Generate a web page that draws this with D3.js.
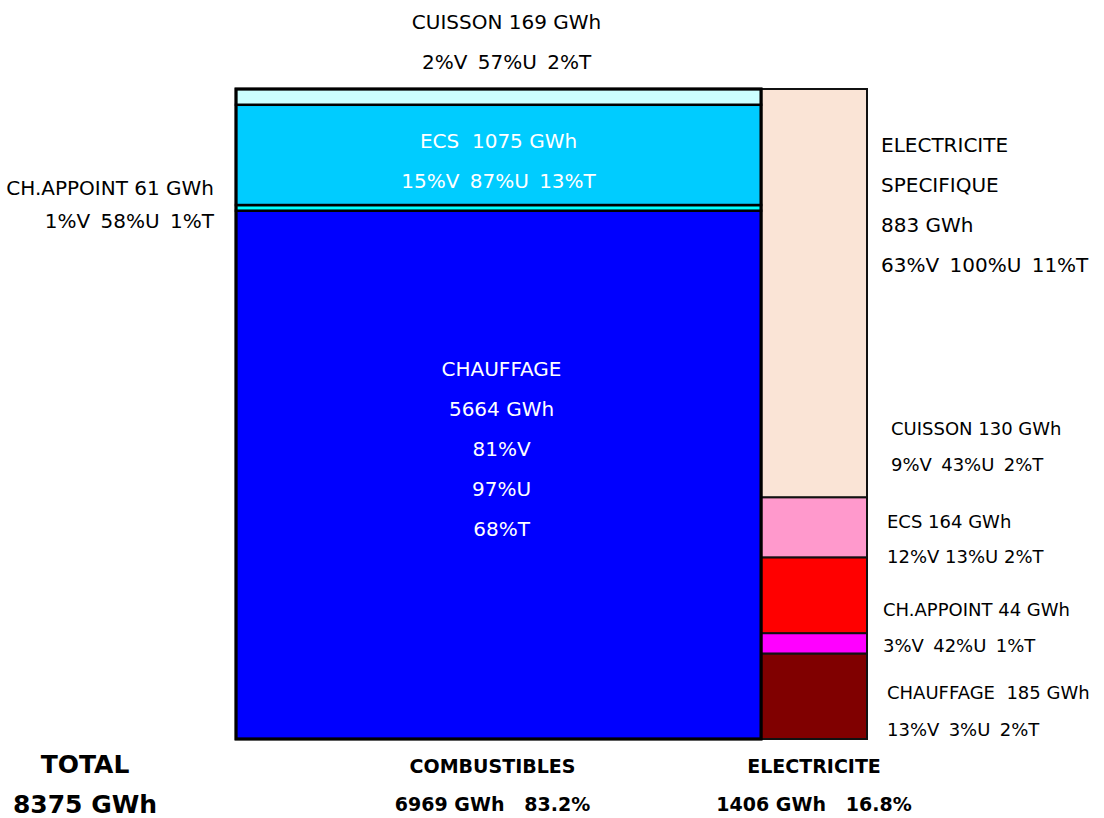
<!DOCTYPE html>
<html>
<head>
<meta charset="utf-8">
<style>
body {
  margin: 0;
  background: #fff;
}
svg text {
  font-family: "DejaVu Sans", sans-serif;
}
</style>
</head>
<body>
<div class="container"></div>
<script src="https://d3js.org/d3.v7.min.js"></script>
<script>

// energy carriers (columns)
var carriers = ["COMBUSTIBLES", "ELECTRICITE"];
var carrierTotals = [6969, 1406];
var carrierShares = ["83.2%", "16.8%"];
var grandTotal = 8375;

// uses, stacked from the bottom
var combUses = ["CHAUFFAGE", "CH.APPOINT", "ECS", "CUISSON"];
var combValues = [5664, 61, 1075, 169];
var combShares = ["81%V 97%U 68%T", "1%V 58%U 1%T", "15%V 87%U 13%T", "2%V 57%U 2%T"];
var combColors = ["#0000ff", "#00ffff", "#00ccff", "#ccffff"];

var elecUses = ["CHAUFFAGE", "CH.APPOINT", "ECS", "CUISSON", "ELECTRICITE SPECIFIQUE"];
var elecValues = [185, 44, 164, 130, 883];
var elecShares = ["13%V 3%U 2%T", "3%V 42%U 1%T", "12%V 13%U 2%T", "9%V 43%U 2%T", "63%V 100%U 11%T"];
var elecColors = ["#800000", "#ff00ff", "#ff0000", "#ff99cc", "#fae4d6"];

var width = 1104,
    height = 818;

var svg = d3.select(".container")
    .append("svg")
    .attr("width", width)
    .attr("height", height);

var x = d3.scaleLinear().domain([0, grandTotal]).range([236, 867]);

function stackUp(values) {
  var acc = 0;
  return values.map(function(v) {
    var d = { y0: acc, y1: acc + v, value: v };
    acc += v;
    return d;
  });
}

var combStack = stackUp(combValues);
var elecStack = stackUp(elecValues);

var yComb = d3.scaleLinear().domain([0, carrierTotals[0]]).range([739, 89]);
var yElec = d3.scaleLinear().domain([0, carrierTotals[1]]).range([739, 89]);

var xComb0 = x(0), xComb1 = x(carrierTotals[0]);
var xElec0 = x(carrierTotals[0]), xElec1 = x(grandTotal);

// electricity column first so the combustibles border sits on top
svg.append("g").selectAll("rect")
    .data(elecStack)
    .enter().append("rect")
    .attr("x", xElec0)
    .attr("width", xElec1 - xElec0)
    .attr("y", function(d) { return yElec(d.y1); })
    .attr("height", function(d) { return yElec(d.y0) - yElec(d.y1); })
    .style("fill", function(d, i) { return elecColors[i]; })
    .style("stroke", "#111")
    .style("stroke-width", 2);

svg.append("g").selectAll("rect")
    .data(combStack)
    .enter().append("rect")
    .attr("x", xComb0)
    .attr("width", xComb1 - xComb0)
    .attr("y", function(d) { return yComb(d.y1); })
    .attr("height", function(d) { return yComb(d.y0) - yComb(d.y1); })
    .style("fill", function(d, i) { return combColors[i]; })
    .style("stroke", "#000")
    .style("stroke-width", 2.5);

svg.append("rect")
    .attr("x", xComb0)
    .attr("y", yComb(carrierTotals[0]))
    .attr("width", xComb1 - xComb0)
    .attr("height", yComb(0) - yComb(carrierTotals[0]))
    .style("fill", "none")
    .style("stroke", "#000")
    .style("stroke-width", 3);

function label(lines, px, py, opts) {
  opts = opts || {};
  var step = opts.step || 40;
  svg.append("g").selectAll("text")
      .data(lines)
      .enter().append("text")
      .attr("x", px)
      .attr("y", function(d, i) { return py + i * step; })
      .attr("dominant-baseline", "central")
      .attr("text-anchor", opts.anchor || "start")
      .style("font-size", (opts.size || 20) + "px")
      .style("font-weight", opts.weight || "normal")
      .style("fill", opts.color || "#000")
      .style("white-space", "pre")
      .text(function(d) { return d; });
}

function spaced(s) { return s.replace(/ /g, " \u2009"); }

var cx = (xComb0 + xComb1) / 2;
var plotTop = yComb(carrierTotals[0]);

// combustibles labels
label([combUses[3] + " " + combValues[3] + " GWh", spaced(combShares[3])], cx + 8, plotTop - 67, { anchor: "middle" });
var ecsMid = yComb((combStack[2].y0 + combStack[2].y1) / 2);
label([combUses[2] + "  " + combValues[2] + " GWh", spaced(combShares[2])], cx, ecsMid - 14, { anchor: "middle", color: "#fff" });
var appMid = yComb((combStack[1].y0 + combStack[1].y1) / 2);
label([combUses[1] + " " + combValues[1] + " GWh", spaced(combShares[1])], xComb0 - 22, appMid - 20, { anchor: "end", step: 33 });
var chMid = yComb((combStack[0].y0 + combStack[0].y1) / 2);
label([combUses[0], combValues[0] + " GWh"].concat(combShares[0].split(" ")), cx + 3, chMid - 106, { anchor: "middle", color: "#fff" });

// electricity labels
var ex = xElec1 + 14;
label(["ELECTRICITE", "SPECIFIQUE", elecValues[4] + " GWh", spaced(elecShares[4])], ex, plotTop + 56, { step: 40 });
var eMid = function(i) { return yElec((elecStack[i].y0 + elecStack[i].y1) / 2); };
label([elecUses[3] + " " + elecValues[3] + " GWh", spaced(elecShares[3])], ex + 10, eMid(3) - 99, { size: 18, step: 36 });
label([elecUses[2] + " " + elecValues[2] + " GWh", elecShares[2]], ex + 6, eMid(2) - 74, { size: 18, step: 35 });
label([elecUses[1] + " " + elecValues[1] + " GWh", spaced(elecShares[1])], ex + 2, eMid(1) - 34, { size: 18, step: 36 });
label([elecUses[0] + "  " + elecValues[0] + " GWh", spaced(elecShares[0])], ex + 6, eMid(0) - 4, { size: 18, step: 37 });

// bottom totals
label(["TOTAL", grandTotal + " GWh"], 85, 764, { anchor: "middle", size: 25, weight: "bold", step: 40 });
label([carriers[0], carrierTotals[0] + " GWh   " + carrierShares[0]], cx - 6, 766, { anchor: "middle", size: 19, weight: "bold", step: 38 });
label([carriers[1], carrierTotals[1] + " GWh   " + carrierShares[1]], (xElec0 + xElec1) / 2, 766, { anchor: "middle", size: 19, weight: "bold", step: 38 });

</script>
</body>
</html>
